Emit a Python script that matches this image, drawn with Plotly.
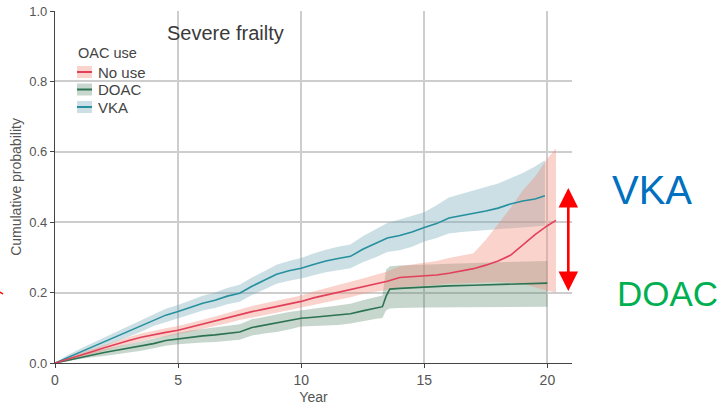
import plotly.graph_objects as go

# Cumulative probability by year, per OAC group
years_none = [0, 0.5, 1, 1.5, 2, 2.5, 3, 3.5, 4, 4.5, 5, 5.5, 6, 6.5, 7, 7.5, 8, 8.5, 9, 9.5,
              10, 10.5, 11, 11.5, 12, 12.5, 13, 13.5, 14, 14.5, 15, 15.5, 16, 16.5, 17, 17.5,
              18, 18.5, 19, 19.5, 20, 20.35]
none_est = [0, 0.010, 0.021, 0.032, 0.043, 0.054, 0.064, 0.073, 0.081, 0.087, 0.093, 0.102,
            0.110, 0.118, 0.127, 0.137, 0.146, 0.153, 0.160, 0.167, 0.175, 0.185, 0.193, 0.200,
            0.208, 0.218, 0.226, 0.232, 0.243, 0.245, 0.247, 0.250, 0.255, 0.262, 0.268, 0.278,
            0.290, 0.306, 0.335, 0.365, 0.390, 0.405]
none_hi = [0, 0.016, 0.028, 0.040, 0.051, 0.063, 0.074, 0.084, 0.092, 0.099, 0.105, 0.115,
           0.123, 0.132, 0.141, 0.152, 0.162, 0.169, 0.177, 0.184, 0.192, 0.203, 0.212, 0.220,
           0.229, 0.240, 0.250, 0.260, 0.275, 0.280, 0.285, 0.290, 0.298, 0.305, 0.312, 0.350,
           0.395, 0.440, 0.490, 0.530, 0.580, 0.610]
none_lo = [0, 0.004, 0.014, 0.024, 0.035, 0.045, 0.054, 0.062, 0.070, 0.075, 0.081, 0.089,
           0.097, 0.104, 0.113, 0.122, 0.130, 0.137, 0.143, 0.150, 0.158, 0.167, 0.174, 0.180,
           0.187, 0.196, 0.203, 0.208, 0.215, 0.217, 0.220, 0.222, 0.225, 0.227, 0.228, 0.229,
           0.230, 0.228, 0.225, 0.215, 0.205, 0.200]

years_doac = [0, 0.5, 1, 1.5, 2, 2.5, 3, 3.5, 4, 4.5, 5, 5.5, 6, 6.5, 7, 7.5, 8, 8.5, 9, 9.5,
              10, 10.5, 11, 11.5, 12, 12.5, 13, 13.3, 13.45, 13.6, 14, 15, 16, 17, 18, 19, 20]
doac_est = [0, 0.008, 0.016, 0.024, 0.030, 0.036, 0.042, 0.048, 0.055, 0.064, 0.069, 0.074,
            0.077, 0.080, 0.083, 0.088, 0.101, 0.108, 0.113, 0.120, 0.127, 0.130, 0.133, 0.136,
            0.140, 0.148, 0.156, 0.160, 0.190, 0.210, 0.212, 0.216, 0.219, 0.221, 0.223, 0.225,
            0.227]
doac_hi = [0, 0.011, 0.022, 0.032, 0.040, 0.048, 0.054, 0.061, 0.069, 0.079, 0.085, 0.092,
           0.096, 0.100, 0.104, 0.110, 0.124, 0.132, 0.138, 0.145, 0.150, 0.155, 0.160, 0.164,
           0.168, 0.178, 0.187, 0.192, 0.265, 0.275, 0.277, 0.280, 0.282, 0.284, 0.286, 0.288,
           0.290]
doac_lo = [0, 0.005, 0.010, 0.016, 0.020, 0.024, 0.030, 0.035, 0.041, 0.049, 0.053, 0.056,
           0.058, 0.060, 0.062, 0.066, 0.078, 0.084, 0.088, 0.095, 0.104, 0.105, 0.106, 0.108,
           0.112, 0.118, 0.125, 0.128, 0.150, 0.155, 0.156, 0.158, 0.158, 0.159, 0.159, 0.160,
           0.160]

years_vka = [0, 0.5, 1, 1.5, 2, 2.5, 3, 3.5, 4, 4.5, 5, 5.5, 6, 6.5, 7, 7.5, 8, 8.5, 9, 9.5,
             10, 10.5, 11, 11.5, 12, 12.5, 13, 13.5, 14, 14.5, 15, 15.5, 16, 16.5, 17, 17.5,
             18, 18.5, 19, 19.5, 19.9]
vka_est = [0, 0.015, 0.030, 0.045, 0.060, 0.075, 0.090, 0.105, 0.122, 0.136, 0.146, 0.158,
           0.170, 0.178, 0.190, 0.198, 0.218, 0.235, 0.252, 0.262, 0.269, 0.280, 0.290, 0.297,
           0.303, 0.323, 0.340, 0.355, 0.362, 0.372, 0.385, 0.396, 0.412, 0.418, 0.424, 0.432,
           0.440, 0.452, 0.460, 0.466, 0.475]
vka_hi = [0, 0.022, 0.040, 0.057, 0.073, 0.089, 0.105, 0.121, 0.139, 0.154, 0.165, 0.178,
          0.191, 0.200, 0.213, 0.222, 0.243, 0.261, 0.279, 0.290, 0.298, 0.311, 0.322, 0.330,
          0.337, 0.360, 0.380, 0.398, 0.408, 0.418, 0.428, 0.448, 0.470, 0.480, 0.490, 0.500,
          0.510, 0.525, 0.540, 0.558, 0.576]
vka_lo = [0, 0.008, 0.020, 0.033, 0.047, 0.061, 0.075, 0.089, 0.105, 0.118, 0.127, 0.138,
          0.149, 0.156, 0.167, 0.174, 0.193, 0.209, 0.225, 0.234, 0.240, 0.249, 0.258, 0.264,
          0.269, 0.286, 0.300, 0.315, 0.320, 0.330, 0.345, 0.355, 0.368, 0.372, 0.375, 0.377,
          0.380, 0.383, 0.386, 0.388, 0.390]

groups = [
    ("VKA", years_vka, vka_est, vka_lo, vka_hi, "#26909e", "rgba(110,165,180,0.36)"),
    ("DOAC", years_doac, doac_est, doac_lo, doac_hi, "#2d7352", "rgba(80,130,100,0.32)"),
    ("No use", years_none, none_est, none_lo, none_hi, "#e2405a", "rgba(238,140,120,0.38)"),
]
legend_order = ["No use", "DOAC", "VKA"]

x_ticks = [0, 5, 10, 15, 20]
y_ticks = [0.0, 0.2, 0.4, 0.6, 0.8, 1.0]

fig = go.Figure()

# confidence bands first, so every line sits on top of them
for name, xs, est, lo, hi, line_c, band_c in groups:
    fig.add_trace(go.Scatter(
        x=list(xs) + list(xs)[::-1], y=list(hi) + list(lo)[::-1],
        fill="toself", fillcolor=band_c, line=dict(width=0),
        mode="lines", hoverinfo="skip", showlegend=False))
for name, xs, est, lo, hi, line_c, band_c in groups:
    fig.add_trace(go.Scatter(
        x=xs, y=est, mode="lines", name=name,
        line=dict(color=line_c, width=1.6), showlegend=False))

# hand-built legend in the upper-left corner
L, R, T, B = 55, 572, 11, 363
def px(x):
    return (x - L) / (R - L)
def py(y):
    return (B - y) / (B - T)

shapes = []
annotations = [dict(text="OAC use", x=px(76), y=py(53), xref="paper", yref="paper",
                    xanchor="left", yanchor="middle", showarrow=False,
                    font=dict(size=14.5, color="#444"))]
style = {g[0]: g for g in groups}
for i, name in enumerate(legend_order):
    cy = 72 + 17.5 * i
    _, _, _, _, _, line_c, band_c = style[name]
    shapes.append(dict(type="rect", xref="paper", yref="paper",
                       x0=px(77), x1=px(92), y0=py(cy - 6), y1=py(cy + 6),
                       fillcolor=band_c, line=dict(width=0)))
    shapes.append(dict(type="line", xref="paper", yref="paper",
                       x0=px(77), x1=px(92), y0=py(cy), y1=py(cy),
                       line=dict(color=line_c, width=2)))
    annotations.append(dict(text=name, x=px(96), y=py(cy), xref="paper", yref="paper",
                            xanchor="left", yanchor="middle", showarrow=False,
                            font=dict(size=15, color="#444")))

# small red stroke at the far left edge
shapes.append(dict(type="line", xref="paper", yref="paper",
                   x0=px(0), x1=px(3), y0=py(292), y1=py(294),
                   line=dict(color="#ff0000", width=1.5)))

# panel title
annotations.append(dict(text="Severe frailty", x=px(225), y=py(33), xref="paper", yref="paper",
                        xanchor="center", yanchor="middle", showarrow=False,
                        font=dict(size=20, color="#3a3a3a")))

# double-headed arrow between the VKA and DOAC end points
annotations.append(dict(x=20.85, y=0.497, ax=20.85, ay=0.200, xref="x", yref="y",
                        axref="x", ayref="y", text="", showarrow=True,
                        arrowhead=2, startarrowhead=2, arrowside="end+start",
                        arrowsize=1.5, startarrowsize=1.5, arrowwidth=2.6, arrowcolor="#ff0000"))
annotations.append(dict(text="VKA", x=px(652), y=py(190), xref="paper", yref="paper",
                        xanchor="center", yanchor="middle", showarrow=False,
                        font=dict(size=40, color="#0070c0", family="Liberation Sans")))
annotations.append(dict(text="DOAC", x=px(667), y=py(293), xref="paper", yref="paper",
                        xanchor="center", yanchor="middle", showarrow=False,
                        font=dict(size=35, color="#00b050", family="Liberation Sans")))

fig.update_layout(
    width=719, height=405,
    margin=dict(l=L, r=719 - R, t=T, b=405 - B),
    paper_bgcolor="white", plot_bgcolor="white",
    font=dict(family="Liberation Sans", color="#555"),
    shapes=shapes, annotations=annotations,
    showlegend=False,
)
fig.update_xaxes(
    range=[0, 21], tickvals=x_ticks, ticktext=[str(v) for v in x_ticks],
    showgrid=True, gridcolor="#cdcdcd", gridwidth=1.6, zeroline=False,
    showline=True, linecolor="#444", linewidth=1.2, automargin=False,
    ticks="outside", ticklen=4, tickcolor="#444", tickfont=dict(size=14, color="#555"),
    title=dict(text="Year", font=dict(size=14, color="#555"), standoff=6),
)
fig.update_yaxes(
    range=[0, 1.0], tickvals=y_ticks, ticktext=[f"{v:.1f}" for v in y_ticks],
    showgrid=True, gridcolor="#cdcdcd", gridwidth=1.6, zeroline=False,
    showline=True, linecolor="#444", linewidth=1.2, automargin=False,
    ticks="outside", ticklen=4, tickcolor="#444", tickfont=dict(size=13, color="#555"),
    title=dict(text="Cumulative probability", font=dict(size=14, color="#555"), standoff=4),
)

fig.write_html("out.html")
